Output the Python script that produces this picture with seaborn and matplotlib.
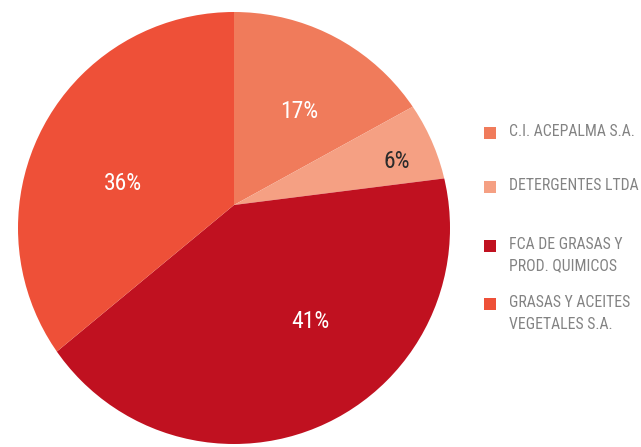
import matplotlib
matplotlib.use("Agg")
import matplotlib.pyplot as plt
import seaborn as sns
from matplotlib.patches import Rectangle, Circle
from matplotlib import font_manager

categories = ["C.I. ACEPALMA S.A.", "DETERGENTES LTDA", "FCA DE GRASAS Y\nPROD. QUIMICOS", "GRASAS Y ACEITES\nVEGETALES S.A."]
shares = [17, 6, 41, 36]
colors = ["#F07B5B", "#F5A083", "#C01120", "#EE5038"]
label_colors = ["white", "#2b2b2b", "white", "white"]

sns.set_theme(style="white")
names = {f.name for f in font_manager.fontManager.ttflist}
cands = ["Roboto Condensed", "Liberation Sans Narrow", "Open Sans Condensed", "Roboto"]
fam = [c for c in cands if c in names] + ["DejaVu Sans"]
plt.rcParams["font.family"] = fam

W, H = 641, 447
fig = plt.figure(figsize=(W / 100, H / 100), dpi=100)
# outline circle (pixels)
cx, cy, r = 234, 228, 216
ax = fig.add_axes([(cx - r) / W, (H - cy - r) / H, 2 * r / W, 2 * r / H])
vertex_y = (cy - 205) / r
wedges, texts, autotexts = ax.pie(
    shares, colors=colors, startangle=90, counterclock=False,
    autopct="%.0f%%", pctdistance=0.6, radius=1.2, center=(0, vertex_y),
    wedgeprops=dict(linewidth=0, edgecolor="none"),
    textprops=dict(fontsize=17, color="white"))
clip = Circle((0, 0), 1, transform=ax.transData)
for w in wedges:
    w.set_clip_on(True)
    w.set_clip_path(clip)

label_px = [(299, 111), (397, 161), (310, 322), (123, 184)]
for t, c, (px, py) in zip(autotexts, label_colors, label_px):
    t.set_color(c)
    t.set_position(((px - cx) / r, (cy - py) / r))
ax.set_xlim(-1, 1)
ax.set_ylim(-1, 1)
ax.set_aspect("equal")
ax.axis("off")

# legend
rows_y = [133, 187, 246, 304]
for cat, col, y in zip(categories, colors, rows_y):
    fig.patches.append(Rectangle((484 / W, (H - y - 6) / H), 12 / W, 12 / H,
                                 transform=fig.transFigure, facecolor=col, edgecolor="none"))
    fig.text(509 / W, (H - y + 9) / H, cat, ha="left", va="top", fontsize=11.3,
             color="#838383", linespacing=1.55)

fig.savefig("out.png", dpi=100)
